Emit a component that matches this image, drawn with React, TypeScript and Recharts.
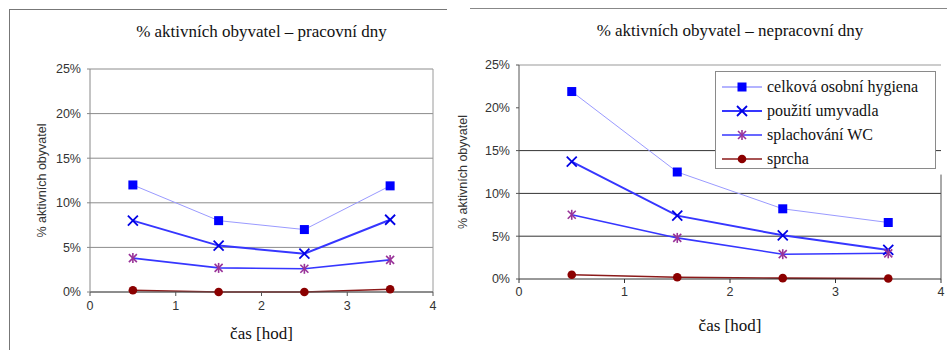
import React from "react";
import { LineChart, Line, XAxis, YAxis, CartesianGrid, ReferenceLine, Legend } from "recharts";

// hodiny (středy intervalů) a hodnoty v %
const HOURS = [0.5, 1.5, 2.5, 3.5];
const X_TICKS = [0, 1, 2, 3, 4];
const Y_TICKS = [0, 5, 10, 15, 20, 25];
const SERIES_NAMES = ["celková osobní hygiena", "použití umyvadla", "splachování WC", "sprcha"];
const TITLE_WORK = "% aktivních obyvatel – pracovní dny";
const TITLE_FREE = "% aktivních obyvatel – nepracovní dny";
const Y_LABEL = "% aktivních obyvatel";
const X_LABEL = "čas [hod]";

const WORK_HYGIENA = [12.0, 8.0, 7.0, 11.9];
const WORK_UMYVADLO = [8.0, 5.2, 4.3, 8.1];
const WORK_WC = [3.8, 2.7, 2.6, 3.6];
const WORK_SPRCHA = [0.2, 0.0, 0.0, 0.3];

const FREE_HYGIENA = [21.9, 12.5, 8.2, 6.6];
const FREE_UMYVADLO = [13.7, 7.4, 5.1, 3.4];
const FREE_WC = [7.5, 4.8, 2.9, 3.0];
const FREE_SPRCHA = [0.5, 0.2, 0.1, 0.05];

const rows = (hyg: number[], umy: number[], wc: number[], spr: number[]) =>
  HOURS.map((h, i) => ({ h, hyg: hyg[i], umy: umy[i], wc: wc[i], spr: spr[i] }));

const workData = rows(WORK_HYGIENA, WORK_UMYVADLO, WORK_WC, WORK_SPRCHA);
const freeData = rows(FREE_HYGIENA, FREE_UMYVADLO, FREE_WC, FREE_SPRCHA);

type Marker = "square" | "x" | "star" | "circle";
const SERIES: { key: string; line: string; width: number; marker: Marker; mark: string }[] = [
  { key: "hyg", line: "#9a9aff", width: 1, marker: "square", mark: "#0000ff" },
  { key: "umy", line: "#3636ff", width: 2, marker: "x", mark: "#0000e6" },
  { key: "wc", line: "#3636ff", width: 1.6, marker: "star", mark: "#993399" },
  { key: "spr", line: "#8b1a1a", width: 1.6, marker: "circle", mark: "#8b0000" },
];

function Shape({ cx, cy, marker, color }: { cx: number; cy: number; marker: Marker; color: string }) {
  if (cx == null || cy == null) return null;
  if (marker === "square") return <rect x={cx - 4.5} y={cy - 4.5} width={9} height={9} fill={color} />;
  if (marker === "circle") return <circle cx={cx} cy={cy} r={4.3} fill={color} />;
  if (marker === "x")
    return (
      <g stroke={color} strokeWidth={1.8}>
        <line x1={cx - 5} y1={cy - 5} x2={cx + 5} y2={cy + 5} />
        <line x1={cx - 5} y1={cy + 5} x2={cx + 5} y2={cy - 5} />
      </g>
    );
  return (
    <g stroke={color} strokeWidth={1.6}>
      <line x1={cx - 4} y1={cy - 4} x2={cx + 4} y2={cy + 4} />
      <line x1={cx - 4} y1={cy + 4} x2={cx + 4} y2={cy - 4} />
      <line x1={cx} y1={cy - 5} x2={cx} y2={cy + 5} />
    </g>
  );
}

const sans = "'Liberation Sans', Arial, sans-serif";
const serif = "'Liberation Serif', 'Times New Roman', 'DejaVu Serif', serif";
const tickStyle = { fontSize: 12.5, fill: "#333", fontFamily: sans };

function renderLines() {
  return SERIES.map((s, i) => (
    <Line
      key={s.key}
      type="linear"
      dataKey={s.key}
      name={SERIES_NAMES[i]}
      stroke={s.line}
      strokeWidth={s.width}
      isAnimationActive={false}
      activeDot={false}
      dot={(p: any) => <Shape key={`${s.key}-${p.index}`} cx={p.cx} cy={p.cy} marker={s.marker} color={s.mark} />}
    />
  ));
}

function LegendBox({ payload }: any) {
  return (
    <div style={{ border: "1.5px solid #8a8a8a", background: "#fff", padding: "3px 0 0 4px", height: "100%", boxSizing: "border-box" }}>
      {(payload || []).map((p: any) => {
        const s = SERIES.find((x) => x.key === p.dataKey)!;
        return (
          <div key={p.dataKey} style={{ display: "flex", alignItems: "center", height: 24 }}>
            <svg width={44} height={14}>
              <line x1={2} y1={7} x2={42} y2={7} stroke={s.line} strokeWidth={Math.max(s.width, 1.6)} />
              <Shape cx={22} cy={7} marker={s.marker} color={s.mark} />
            </svg>
            <span style={{ fontFamily: serif, fontSize: 16, color: "#111", marginLeft: 3 }}>{p.value}</span>
          </div>
        );
      })}
    </div>
  );
}

export default function App() {
  return (
    <div style={{ position: "fixed", left: 0, top: 0, width: 947, height: 350, background: "#fff", overflow: "hidden" }}>
      {/* rámečky */}
      <div style={{ position: "absolute", left: 9, top: 9, width: 438, height: 1, background: "#777" }} />
      <div style={{ position: "absolute", left: 9, top: 9, width: 1, height: 341, background: "#777" }} />
      <div style={{ position: "absolute", left: 470, top: 8, width: 477, height: 1, background: "#888" }} />

      <div style={{ position: "absolute", left: 0, top: 0 }}>
        <LineChart width={447} height={350} data={workData} margin={{ top: 69, right: 14, bottom: 28, left: 38 }}>
          <CartesianGrid horizontal vertical={false} stroke="#8c8c8c" />
          <ReferenceLine x={4} stroke="#9a9a9a" />
          <XAxis
            type="number"
            dataKey="h"
            domain={[0, 4]}
            ticks={X_TICKS}
            height={30}
            tick={tickStyle}
            tickSize={4}
            tickMargin={5}
            stroke="#555"
            label={{ value: X_LABEL, position: "bottom", offset: 5, style: { fontFamily: serif, fontSize: 17, fill: "#111" } }}
          />
          <YAxis
            type="number"
            domain={[0, 25]}
            ticks={Y_TICKS}
            width={52}
            tick={tickStyle}
            tickSize={3}
            tickMargin={6}
            tickFormatter={(v: number) => `${v}%`}
            stroke="#888"
            label={{ value: Y_LABEL, angle: -90, position: "insideLeft", offset: 4, style: { textAnchor: "middle", fontSize: 12.5, fill: "#333", fontFamily: sans } }}
          />
          {renderLines()}
        </LineChart>
      </div>
      <div style={{ position: "absolute", left: 90, width: 343, top: 22, textAlign: "center", fontFamily: serif, fontSize: 17, color: "#111" }}>
        {TITLE_WORK}
      </div>

      <div style={{ position: "absolute", left: 455, top: 0 }}>
        <LineChart width={492} height={350} data={freeData} margin={{ top: 65, right: 6, bottom: 41, left: 4 }}>
          <ReferenceLine y={25} stroke="#999" />
          <ReferenceLine y={15} stroke="#333" />
          <ReferenceLine y={10} stroke="#333" />
          <ReferenceLine y={5} stroke="#333" />
          <ReferenceLine segment={[{ x: 4, y: 0 }, { x: 4, y: 12.2 }]} stroke="#555" />
          <XAxis
            type="number"
            dataKey="h"
            domain={[0, 4]}
            ticks={X_TICKS}
            height={30}
            tick={tickStyle}
            tickSize={4}
            tickMargin={4}
            stroke="#333"
            label={{ value: X_LABEL, position: "bottom", offset: 10, style: { fontFamily: serif, fontSize: 17, fill: "#111" } }}
          />
          <YAxis
            type="number"
            domain={[0, 25]}
            ticks={Y_TICKS}
            width={60}
            tick={tickStyle}
            tickSize={3}
            tickMargin={6}
            tickFormatter={(v: number) => `${v}%`}
            stroke="#555"
            label={{ value: Y_LABEL, angle: -90, position: "insideLeft", offset: 4, style: { textAnchor: "middle", fontSize: 12.5, fill: "#333", fontFamily: sans } }}
          />
          {renderLines()}
          <Legend
            layout="horizontal"
            verticalAlign="middle"
            align="center"
            content={LegendBox}
            wrapperStyle={{ left: 260, top: 71, width: 221, height: 98 }}
          />
        </LineChart>
      </div>
      <div style={{ position: "absolute", left: 519, width: 422, top: 21, textAlign: "center", fontFamily: serif, fontSize: 17, color: "#111" }}>
        {TITLE_FREE}
      </div>
    </div>
  );
}
